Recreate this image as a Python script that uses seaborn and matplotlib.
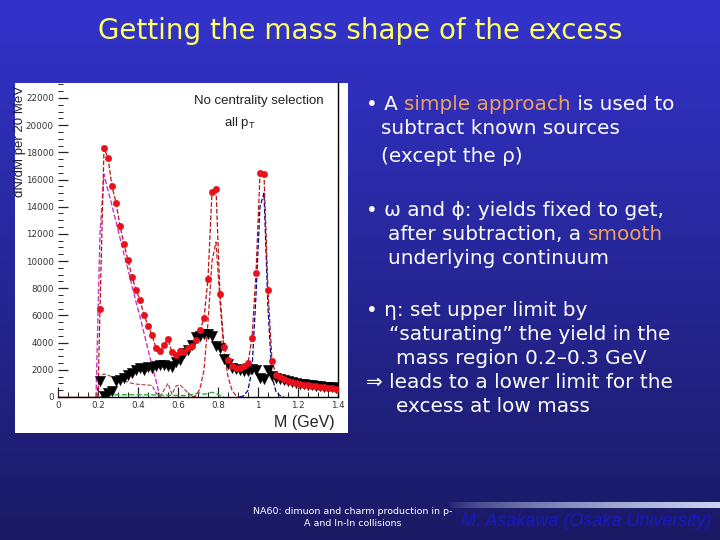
import numpy as np
import matplotlib
matplotlib.use("Agg")
import matplotlib.pyplot as plt
import seaborn as sns
from matplotlib.patches import Rectangle
from matplotlib.ticker import MultipleLocator

# dimuon mass bins (GeV), 20 MeV wide
mass = np.round(np.arange(0.21, 1.40, 0.02), 2)

# measured total (red points)
total = [6500, 18300, 17600, 15500, 14300, 12600, 11250, 10050, 8850, 7900,
         7100, 6050, 5250, 4550, 3600, 3350, 3850, 4250, 3300, 3100,
         3350, 3300, 3600, 3750, 4200, 4900, 5800, 8700, 15100, 15300,
         7550, 3650, 2750, 2250, 2100, 2130, 2250, 2500, 4350, 9150,
         16450, 16400, 7850, 2650, 1650, 1450, 1300, 1200, 1100, 1000,
         950, 900, 880, 820, 780, 740, 700, 680, 640, 600]

# excess after subtraction (black triangles)
excess = [1150, 100, 300, 420, 1150, 1275, 1400, 1650, 1800, 2000,
          2130, 2000, 2200, 2100, 2250, 2380, 2380, 2250, 2200, 2550,
          2750, 3240, 3480, 3850, 4400, 4460, 4600, 4660, 4500, 3730,
          3600, 2800, 2450, 2130, 2060, 2000, 1900, 1900, 2060, 2000,
          1400, 1330, 2000, 1570, 1400, 1300, 1250, 1150, 1100, 1000,
          950, 920, 900, 850, 800, 780, 750, 720, 700, 650]

# known sources
eta_m = [0.19, 0.21, 0.23, 0.25, 0.27, 0.29, 0.31, 0.33, 0.35, 0.37,
         0.39, 0.41, 0.43, 0.45, 0.47, 0.49, 0.51, 0.53]
eta = [0, 12000, 16400, 15200, 14100, 12900, 11700, 10500, 9400, 8200,
       7000, 5900, 4700, 3500, 2300, 1200, 0, 0]

dal_m = [0.19, 0.21, 0.23, 0.25, 0.27, 0.29, 0.31, 0.33, 0.35, 0.37,
         0.39, 0.41, 0.43, 0.45, 0.47, 0.49, 0.51, 0.53, 0.55, 0.57,
         0.59, 0.61, 0.63, 0.65, 0.67, 0.69]
dal = [0, 1500, 1700, 1600, 1500, 1400, 1300, 1200, 1100, 1000,
       950, 920, 900, 880, 850, 300, 50, 500, 1000, 200,
       800, 900, 600, 300, 100, 0]

omega_m = [0.67, 0.69, 0.71, 0.73, 0.75, 0.77, 0.79, 0.81, 0.83, 0.85, 0.87, 0.89, 0.91]
omega = [0, 100, 600, 2000, 5500, 10000, 11400, 7000, 3300, 1500, 500, 100, 0]

phi_m = [0.91, 0.93, 0.95, 0.97, 0.99, 1.01, 1.03, 1.05, 1.07, 1.09, 1.11, 1.13]
phi = [0, 100, 500, 2000, 7500, 14000, 15000, 6500, 1500, 400, 100, 0]

green_m = [0.21, 0.25, 0.35, 0.45, 0.55, 0.65, 0.69, 0.71, 0.73, 0.75, 0.77, 0.79, 0.81, 0.83]
green = [0, 150, 170, 160, 130, 100, 250, 300, 200, 250, 350, 250, 100, 0]

y_ticks = [0, 2000, 4000, 6000, 8000, 10000, 12000, 14000, 16000, 18000, 20000, 22000]
x_ticks = [0, 0.2, 0.4, 0.6, 0.8, 1, 1.2, 1.4]

W, H = 720, 540
YELLOW = "#ffff66"
ORANGE = "#f0a060"


def fx(px):
    return px / W


def fy(py):
    return 1 - py / H


def put_line(fig, x, y, parts, size):
    """Draw a line of text made of coloured pieces, left to right."""
    renderer = fig.canvas.get_renderer()
    for s, c in parts:
        t = fig.text(fx(x), fy(y), s, color=c, fontsize=size, va="center",
                     ha="left", family="DejaVu Sans")
        x += t.get_window_extent(renderer).width


sns.set_style("ticks")
plt.rcParams["font.family"] = ["DejaVu Sans"]

fig = plt.figure(figsize=(7.2, 5.4), dpi=100)

# slide background
bg = fig.add_axes([0, 0, 1, 1])
bg.set_xlim(0, W)
bg.set_ylim(H, 0)
bg.axis("off")
grad = np.linspace(0, 1, 256)[:, None]
top = np.array([51, 51, 204]) / 255
bot = np.array([26, 26, 100]) / 255
img = top[None, None, :] * (1 - grad[:, :, None]) + bot[None, None, :] * grad[:, :, None]
bg.imshow(img, extent=[0, W, H, 0], aspect="auto", zorder=0)
band = np.linspace(0, 1, 256)[None, :, None]
band_img = np.concatenate([np.ones((1, 256, 3)) * np.array([0.8, 0.84, 0.95]),
                           band ** 0.6], axis=2)
bg.imshow(band_img, extent=[448, W, 508, 502], aspect="auto", zorder=1)
bg.add_patch(Rectangle((15, 83), 333, 350, facecolor="white", edgecolor="none", zorder=2))

# title
fig.text(fx(360), fy(31), "Getting the mass shape of the excess", color=YELLOW,
         fontsize=20, ha="center", va="center")

# chart
ax = fig.add_axes([fx(58), fy(397), fx(338) - fx(58), fy(83) - fy(397)])
ax.set_facecolor("none")

sns.lineplot(x=[0.0, 0.2], y=[0, 0], ax=ax, color="#aa1111", lw=1.0)
sns.lineplot(x=eta_m, y=eta, ax=ax, color="#cc33cc", lw=1.0, linestyle="--")
sns.lineplot(x=dal_m, y=dal, ax=ax, color="#994444", lw=0.8, linestyle="--")
sns.lineplot(x=green_m, y=green, ax=ax, color="#33aa33", lw=1.0, linestyle="--")
sns.lineplot(x=omega_m, y=omega, ax=ax, color="#cc2222", lw=0.9, linestyle="--")
sns.lineplot(x=phi_m, y=phi, ax=ax, color="#000099", lw=0.9, linestyle="--")
sns.lineplot(x=np.r_[0.2, mass], y=np.r_[0, total], ax=ax, color="#bb1111",
             lw=0.9, linestyle="--")
sns.scatterplot(x=mass, y=excess, ax=ax, marker="v", s=55, color="black",
                edgecolor="black", linewidth=0.3, zorder=4)
sns.scatterplot(x=mass, y=total, ax=ax, marker="o", s=22, color="#e8101a",
                edgecolor="#e8101a", linewidth=0.3, zorder=5)

ax.set_xlim(0, 1.4)
ax.set_ylim(0, 23100)
ax.set_xticks(x_ticks)
ax.set_xticklabels(["0", "0.2", "0.4", "0.6", "0.8", "1", "1.2", "1.4"])
ax.set_yticks(y_ticks)
ax.set_yticklabels([str(v) for v in y_ticks])
ax.xaxis.set_minor_locator(MultipleLocator(0.05))
ax.yaxis.set_minor_locator(MultipleLocator(500))
ax.tick_params(axis="both", which="major", direction="in", length=7, width=0.9,
               labelsize=6.3, labelcolor="#333333", pad=3)
ax.tick_params(axis="both", which="minor", direction="in", length=3.5, width=0.7)
ax.tick_params(axis="y", which="both", left=True, right=False)
ax.tick_params(axis="x", which="both", bottom=True, top=False)
for side in ["left", "top"]:
    ax.spines[side].set_visible(False)
for side in ["bottom", "right"]:
    ax.spines[side].set_linewidth(1.0)
    ax.spines[side].set_color("black")
ax.set_xlabel("")
ax.set_ylabel("")

fig.text(fx(20), fy(86), "dN/dM per 20 MeV", rotation=90, ha="center", va="top",
         fontsize=9.5, family="Liberation Sans", color="#222222")
fig.text(fx(304), fy(422), "M (GeV)", ha="center", va="center", fontsize=11.5,
         family="Liberation Sans", color="#222222")
fig.text(fx(259), fy(101), "No centrality selection", ha="center", va="center",
         fontsize=9.5, family="Liberation Sans", color="#222222")
fig.text(fx(240), fy(123), r"all p$_\mathregular{T}$", ha="center", va="center",
         fontsize=9.5, family="Liberation Sans", color="#222222")

# bullet text
WHITE = "white"
fs = 14.4
put_line(fig, 366, 105, [("\u2022 A ", WHITE), ("simple approach", ORANGE), (" is used to", WHITE)], fs)
put_line(fig, 381, 129, [("subtract known sources", WHITE)], fs)
put_line(fig, 381, 157, [("(except the \u03c1)", WHITE)], fs)
put_line(fig, 366, 210, [("\u2022 \u03c9 and \u03d5: yields fixed to get,", WHITE)], fs)
put_line(fig, 388, 235, [("after subtraction, a ", WHITE), ("smooth", ORANGE)], fs)
put_line(fig, 388, 259, [("underlying continuum", WHITE)], fs)
put_line(fig, 366, 310, [("\u2022 \u03b7: set upper limit by", WHITE)], fs)
put_line(fig, 389, 334, [("\u201csaturating\u201d the yield in the", WHITE)], fs)
put_line(fig, 396, 358, [("mass region 0.2\u20130.3 GeV", WHITE)], fs)
put_line(fig, 366, 383, [("\u21d2 leads to a lower limit for the", WHITE)], fs)
put_line(fig, 396, 407, [("excess at low mass", WHITE)], fs)

# footer
fig.text(fx(353), fy(512), "NA60: dimuon and charm production in p-", color=WHITE,
         fontsize=6.8, ha="center", va="center")
fig.text(fx(353), fy(524), "A and In-In collisions", color=WHITE,
         fontsize=6.8, ha="center", va="center")
fig.text(fx(586), fy(521), "M. Asakawa (Osaka University)", color="#1818c8",
         fontsize=13, style="italic", family="Liberation Sans", ha="center", va="center")

fig.savefig("out.png", dpi=100)
